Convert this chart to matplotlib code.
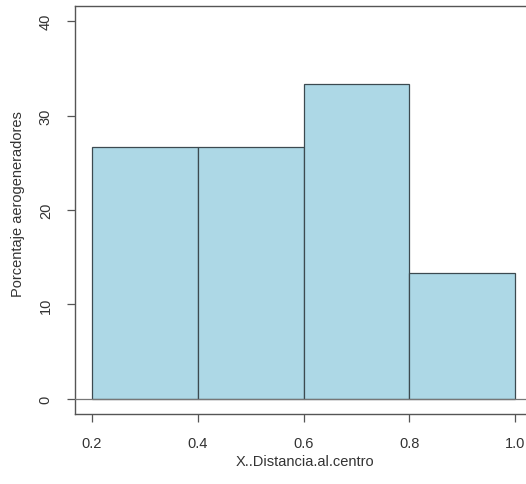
import matplotlib
matplotlib.use("Agg")
import matplotlib.pyplot as plt

plt.rcParams['font.family'] = ['Liberation Sans', 'DejaVu Sans']

bin_edges = [0.2, 0.4, 0.6, 0.8, 1.0]
percentages = [26.67, 26.67, 33.33, 13.33]
x_ticks = [0.2, 0.4, 0.6, 0.8, 1.0]
x_tick_labels = ["0.2", "0.4", "0.6", "0.8", "1.0"]
y_ticks = [0, 10, 20, 30, 40]
y_tick_labels = ["0", "10", "20", "30", "40"]

W, H = 526, 485
fig = plt.figure(figsize=(W / 100, H / 100), dpi=100)
left, right, top, bottom = 75, 532, 7, 415
ax = fig.add_axes([left / W, (H - bottom) / H, (right - left) / W, (bottom - top) / H])

edge = "#3c4a50"
widths = [b - a for a, b in zip(bin_edges[:-1], bin_edges[1:])]
ax.bar(bin_edges[:-1], percentages, width=widths, align="edge",
       color="#add8e6", edgecolor=edge, linewidth=0.9, zorder=2)
ax.axhline(0, color="#777777", linewidth=0.9, zorder=3)

ax.set_xlim(0.168, 1.032)
ax.set_ylim(-1.6, 41.6)
ax.set_xticks(x_ticks)
ax.set_xticklabels(x_tick_labels)
ax.set_yticks(y_ticks)
ax.set_yticklabels(y_tick_labels, rotation=90, va="center")

for s in ax.spines.values():
    s.set_color("#555555")
    s.set_linewidth(1.0)
ax.tick_params(axis="both", length=6, width=0.9, color="#555555",
               labelsize=10.5, labelcolor="#333333")
ax.tick_params(axis="x", pad=10)
ax.tick_params(axis="y", pad=10)

fig.text(18 / W, 1 - 204 / H, "Porcentaje aerogeneradores", rotation=90,
         ha="center", va="center", fontsize=10.5, color="#333333")
fig.text(305 / W, 1 - 462 / H, "X..Distancia.al.centro",
         ha="center", va="center", fontsize=10.5, color="#333333")

fig.savefig("out.png", dpi=100)
